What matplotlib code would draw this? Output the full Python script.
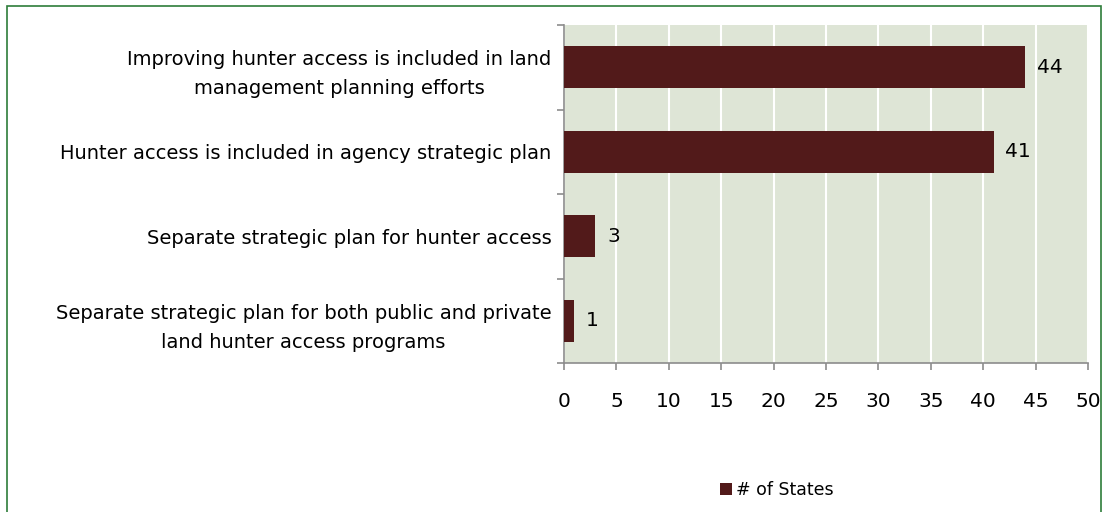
import matplotlib
matplotlib.use("Agg")
import matplotlib.pyplot as plt
from matplotlib.patches import Rectangle

categories = [
    "Improving hunter access is included in land\nmanagement planning efforts",
    "Hunter access is included in agency strategic plan",
    "Separate strategic plan for hunter access",
    "Separate strategic plan for both public and private\nland hunter access programs",
]
values = [44, 41, 3, 1]
series_name = "# of States"
xticks = list(range(0, 51, 5))

bar_color = "#521A1A"
bg_color = "#DEE5D6"
axis_gray = "#8C8C8C"

plt.rcParams["font.family"] = ["DejaVu Sans"]

fig = plt.figure(figsize=(11.08, 5.12), dpi=100)
ax = fig.add_axes([0.509, 0.291, 0.473, 0.660])
ax.set_facecolor(bg_color)

ypos = list(range(len(categories)))
bars = ax.barh(ypos, values, height=0.5, color=bar_color, label=series_name, zorder=3)
ax.set_ylim(len(categories) - 0.5, -0.5)
ax.set_xlim(0, 50)
ax.set_xticks(xticks)
ax.set_xticklabels([str(t) for t in xticks], fontsize=14.5)
ax.grid(axis="x", color="white", linewidth=1.5, zorder=1)
ax.set_yticks(ypos)
ax.set_yticklabels(categories, fontsize=14, ha="right", multialignment="center",
                   linespacing=1.65)
ax.tick_params(axis="y", length=0, pad=9)
ax.tick_params(axis="x", length=5, color=axis_gray, width=1.2, pad=16)

# category separator ticks on the left spine
ax.set_yticks([i - 0.5 for i in range(len(categories) + 1)], minor=True)
ax.tick_params(axis="y", which="minor", length=5, color=axis_gray, width=1.2)

for s in ["top", "right"]:
    ax.spines[s].set_visible(False)
for s in ["left", "bottom"]:
    ax.spines[s].set_color(axis_gray)
    ax.spines[s].set_linewidth(1.2)

for b, v in zip(bars, values):
    ax.text(v + 1.1, b.get_y() + b.get_height() / 2, str(v), va="center",
            ha="left", fontsize=14.5, color="black")

fig.legend(handles=[bars], labels=[series_name], loc="center",
           bbox_to_anchor=(0.701, 0.043), frameon=False, fontsize=12.5,
           handlelength=0.7, handleheight=0.7, handletextpad=0.2)

fig.patches.append(Rectangle((0.0065, -0.01), 0.987, 0.999, transform=fig.transFigure,
                             fill=False, edgecolor="#2E7D3A", linewidth=1.2))

fig.savefig("out.png", dpi=100, facecolor="white")
